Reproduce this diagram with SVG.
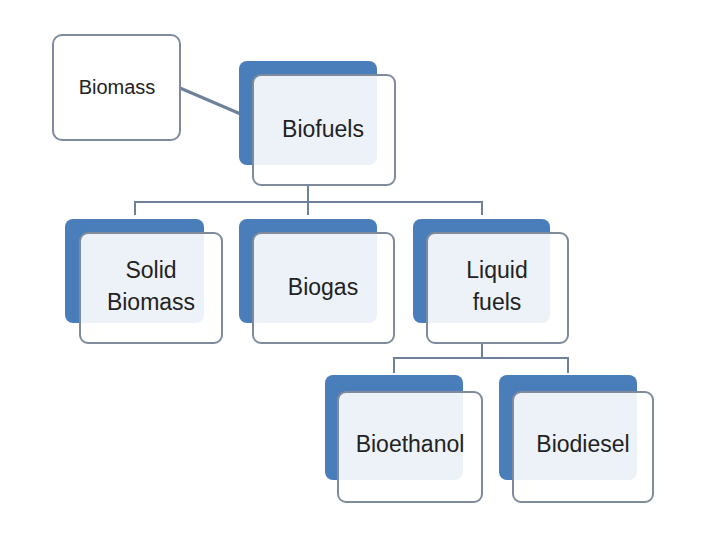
<svg xmlns="http://www.w3.org/2000/svg" width="720" height="540" viewBox="0 0 720 540">
<style>
.back{fill:#4a7ebb;}
.front{fill:#ffffff;fill-opacity:0.9;stroke:#7f8b9c;stroke-width:2;}
.plain{fill:#ffffff;stroke:#7f8b9c;stroke-width:2;}
.conn{fill:none;stroke:#6f8199;stroke-width:2;}
text{font-family:"Liberation Sans",Arial,sans-serif;fill:#222;text-anchor:middle;}
.t22{font-size:23px;}
.t18{font-size:20px;}
</style>
<rect width="720" height="540" fill="#ffffff"/>
<g id="connectors">
<line class="conn" x1="180" y1="88" x2="250" y2="118" style="stroke-width:3"/>
<polyline class="conn" points="308,185 308,202"/>
<polyline class="conn" points="135,215 135,202 482,202 482,215"/>
<polyline class="conn" points="308,202 308,215"/>
<polyline class="conn" points="482,343 482,358"/>
<polyline class="conn" points="394,373 394,358 568,358 568,373"/>
</g>
<g id="biomass">
<rect class="plain" x="53" y="35" width="127" height="105" rx="9"/>
<text class="t18" x="117" y="94">Biomass</text>
</g>
<g id="biofuels">
<rect class="back" x="239" y="61" width="138" height="104" rx="8"/>
<rect class="front" x="253" y="75" width="142" height="110" rx="8"/>
<text class="t22" x="323" y="137">Biofuels</text>
</g>
<g id="solid-biomass">
<rect class="back" x="65" y="219" width="139" height="104" rx="8"/>
<rect class="front" x="80" y="233" width="142" height="110" rx="8"/>
<text class="t22" x="151" y="278">Solid</text>
<text class="t22" x="151" y="310">Biomass</text>
</g>
<g id="biogas">
<rect class="back" x="239" y="219" width="138" height="104" rx="8"/>
<rect class="front" x="253" y="233" width="141" height="110" rx="8"/>
<text class="t22" x="323" y="295">Biogas</text>
</g>
<g id="liquid-fuels">
<rect class="back" x="413" y="219" width="137" height="104" rx="8"/>
<rect class="front" x="427" y="233" width="141" height="110" rx="8"/>
<text class="t22" x="497" y="278">Liquid</text>
<text class="t22" x="497" y="310">fuels</text>
</g>
<g id="bioethanol">
<rect class="back" x="325" y="375" width="138" height="105" rx="8"/>
<rect class="front" x="338" y="392" width="144" height="110" rx="8"/>
<text class="t22" x="410" y="452">Bioethanol</text>
</g>
<g id="biodiesel">
<rect class="back" x="499" y="375" width="138" height="105" rx="8"/>
<rect class="front" x="513" y="392" width="140" height="110" rx="8"/>
<text class="t22" x="583" y="452">Biodiesel</text>
</g>
</svg>
